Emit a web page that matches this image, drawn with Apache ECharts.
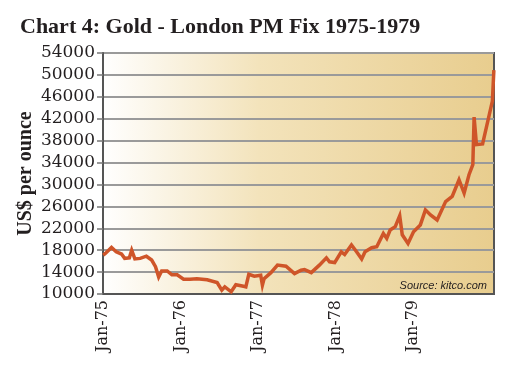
<!DOCTYPE html>
<html><head><meta charset="utf-8">
<script src="https://cdn.jsdelivr.net/npm/echarts@6/dist/echarts.min.js"></script>
<style>html,body{margin:0;padding:0;background:#fff}#c{width:513px;height:366px}</style>
</head><body><div id="c"></div>
<script>
// Fix dates (YYYY-MM-DD) and London PM fix values (as shown on the chart's axis)
var dates = ['1975-01-02','1975-01-12','1975-02-10','1975-03-04','1975-03-29','1975-04-13','1975-05-05','1975-05-16','1975-05-31','1975-06-25','1975-07-24','1975-08-18','1975-09-05','1975-09-20','1975-10-04','1975-10-30','1975-11-21','1975-12-16',
 '1976-01-15','1976-02-14','1976-03-18','1976-05-05','1976-06-21','1976-07-13','1976-07-27','1976-08-26','1976-09-17','1976-10-23','1976-11-03','1976-11-17','1976-12-13',
 '1977-01-13','1977-01-21','1977-01-29','1977-03-02','1977-04-02','1977-05-12','1977-06-21','1977-07-22','1977-08-07','1977-09-08','1977-10-16','1977-11-18','1977-12-03','1977-12-27',
 '1978-01-27','1978-02-12','1978-03-16','1978-04-09','1978-05-03','1978-05-19','1978-06-19','1978-07-13','1978-08-13','1978-08-29','1978-09-14','1978-10-08','1978-10-29','1978-11-10','1978-12-07',
 '1979-01-02','1979-02-03','1979-02-27','1979-03-23','1979-04-23','1979-06-02','1979-07-03','1979-08-04','1979-08-28','1979-09-20','1979-10-08','1979-10-14','1979-10-25','1979-11-23','1980-01-08','1980-01-15'];
var prices = [17100,17400,18500,17700,17300,16500,16600,18000,16400,16500,16900,16200,15000,13100,14200,14200,13500,13500,
 12700,12700,12800,12600,12100,10700,11300,10400,11700,11400,11300,13600,13250,
 13430,11600,12800,13900,15270,15080,13730,14350,14460,13900,15270,16600,15870,15740,
 17710,17210,18940,17710,16370,17710,18440,18620,21060,20150,21690,22300,24300,20800,19230,
 21380,22610,25360,24440,23520,26880,27800,30860,28410,31780,33620,42300,37290,37400,45230,50870];
var yearTicks = [1975,1976,1977,1978,1979];
var tickLabels = ['Jan-75','Jan-76','Jan-77','Jan-78','Jan-79'];
var yMin = 10000, yMax = 54000, yStep = 4000;

function toYear(s){
  var p = s.split('-').map(Number);
  var start = Date.UTC(p[0],0,1), d = Date.UTC(p[0],p[1]-1,p[2]);
  return p[0] + (d-start)/86400000/365;
}
var seriesData = dates.map(function(d,i){ return [toYear(d), prices[i]]; });

var chart = echarts.init(document.getElementById('c'), null, {renderer:'canvas'});
chart.setOption({
  animation:false,
  backgroundColor:'#ffffff',
  title:[{
    text:'Chart 4: Gold - London PM Fix 1975-1979',
    left:15, top:11,
    textStyle:{fontFamily:'Liberation Serif', fontWeight:'bold', fontSize:22, color:'#231f20'}
  },{
    text:'Source: kitco.com',
    right:21, top:275,
    textStyle:{fontFamily:'Liberation Sans', fontStyle:'italic', fontWeight:'normal', fontSize:11, color:'#231f20'}
  }],
  grid:{left:103, right:19, top:53, bottom:72, show:true,
    backgroundColor:{type:'linear', x:0, y:0, x2:1, y2:0, colorStops:[
      {offset:0, color:'#ffffff'},{offset:0.4, color:'#f3e3bb'},{offset:1, color:'#e8cd8e'}]},
    borderColor:'#555555', borderWidth:2},
  xAxis:{type:'value', min:1975, max:1980.04, interval:1,
    axisLine:{show:true, lineStyle:{color:'#555555', width:2}},
    axisTick:{show:false}, splitLine:{show:false},
    axisLabel:{rotate:90, margin:6, fontFamily:'DejaVu Serif', fontSize:16, color:'#231f20',
      formatter:function(v){ var i = yearTicks.indexOf(Math.round(v)); return i>=0 && Math.abs(v-yearTicks[i])<1e-6 ? tickLabels[i] : ''; }}},
  yAxis:{type:'value', min:yMin, max:yMax, interval:yStep,
    name:'US$ per ounce', nameLocation:'middle', nameGap:67, nameMoveOverlap:false,
    nameTextStyle:{fontFamily:'Liberation Serif', fontWeight:'bold', fontSize:20, color:'#231f20'},
    axisLine:{show:true, lineStyle:{color:'#555555', width:2}},
    axisTick:{show:true, length:6, lineStyle:{color:'#777777', width:1.5}},
    splitLine:{show:true, lineStyle:{color:'#9a9a9a', width:2}},
    axisLabel:{margin:8, fontFamily:'DejaVu Serif', fontSize:17, color:'#231f20',
      formatter:function(v){ return String(v); }}},
  series:[{type:'line', data:seriesData, showSymbol:false, symbol:'none',
    lineStyle:{color:'#cf5529', width:3.5, join:'miter'}}]
});
</script></body></html>
